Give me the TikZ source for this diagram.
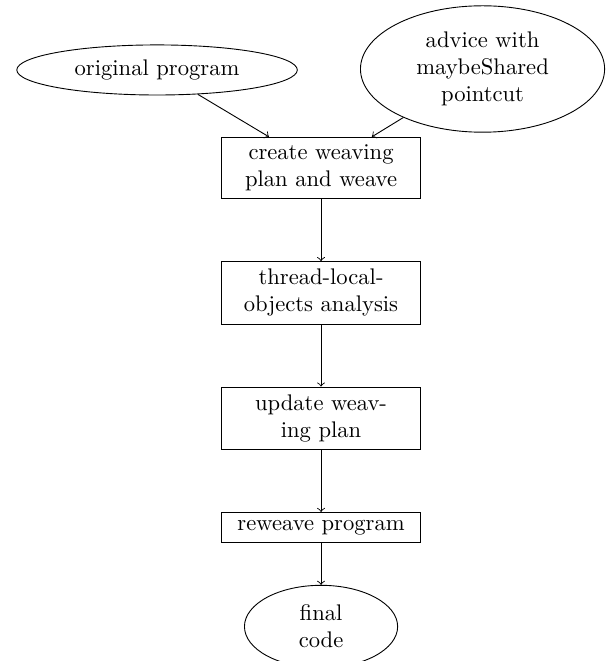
\documentclass[tikz,border=0pt]{standalone}
\usepackage{amssymb,amsmath}
\usepackage{tikz}
\usetikzlibrary{arrows,shapes.geometric,positioning}

\begin{document}
\begin{tikzpicture}[->,node distance=0.964cm,align=center,
		proc/.style={draw,rectangle,text width=2.85cm},
		term/.style={draw,ellipse}]
		\useasboundingbox (-4.992,-7.666) rectangle (4.416,2.612);
		\node[proc] (plan) {create weaving\\plan and weave};
		\node[term,text width=2.85cm] (orig) at (-2.550,1.524) {original program};
		\node[term,text width=2.45cm] (advice) at (2.511,1.539) {advice with\\maybeShared\\pointcut};
		\node[proc] [below=of plan] (tlo) {thread-local-\\objects analysis};
		\node[proc] [below=of tlo] (update) {update weav-\\ing plan};
		\node[proc] [below=of update] (reweave) {reweave program};
		\node[term,text width=1.45cm] [below=0.653cm of reweave] (final) {final\\code};
		\path[->]
			(orig) edge (plan)
			(advice) edge (plan)
			(plan) edge (tlo)
			(tlo) edge (update)
			(update) edge (reweave)
			(reweave) edge (final);
	\end{tikzpicture}
\end{document}
